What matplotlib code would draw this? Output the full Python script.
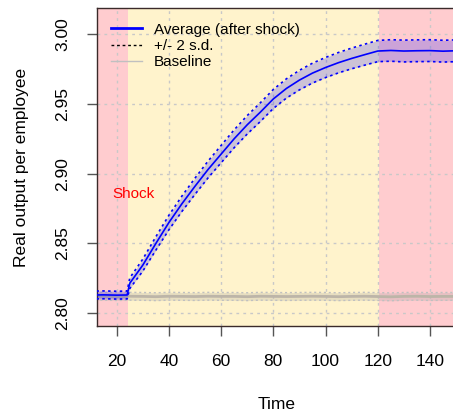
import numpy as np
import matplotlib.pyplot as plt

# values
time = [10, 15, 20, 24, 25, 30, 35, 40, 45, 50, 55, 60, 65, 70, 75, 80, 85, 90,
        95, 100, 105, 110, 115, 120, 125, 130, 135, 140, 145, 150]
avg = [2.8131, 2.8132, 2.8130, 2.8131, 2.8215, 2.8345, 2.8500, 2.8650, 2.8785,
       2.8910, 2.9030, 2.9140, 2.9250, 2.9350, 2.9440, 2.9535, 2.9610, 2.9670,
       2.9720, 2.9760, 2.9795, 2.9825, 2.9852, 2.9878, 2.9882, 2.9878, 2.9880,
       2.9881, 2.9877, 2.9880]
sd2 = [0.0028, 0.0028, 0.0028, 0.0028, 0.0038, 0.0043, 0.0048, 0.0052, 0.0055,
       0.0058, 0.0060, 0.0062, 0.0064, 0.0066, 0.0067, 0.0068, 0.0069, 0.0070,
       0.0071, 0.0072, 0.0073, 0.0074, 0.0075, 0.0076, 0.0077, 0.0078, 0.0078,
       0.0078, 0.0078, 0.0078]
base = [2.8121, 2.8122, 2.8120, 2.8121, 2.8122, 2.8121, 2.8119, 2.8122, 2.8121,
        2.8120, 2.8122, 2.8121, 2.8121, 2.8119, 2.8122, 2.8121, 2.8120, 2.8121,
        2.8122, 2.8121, 2.8119, 2.8121, 2.8122, 2.8120, 2.8118, 2.8121, 2.8122,
        2.8120, 2.8121, 2.8121]
base_sd2 = 0.0028
shock_start = 24.2
shock_end = 120.3

time = np.array(time)
avg = np.array(avg)
sd2 = np.array(sd2)
base = np.array(base)

plt.rcParams['font.family'] = ['Liberation Sans', 'DejaVu Sans']

fig = plt.figure(figsize=(4.53, 4.15), dpi=100)
ax = fig.add_axes([96.7/453, 89/415, (456.1-96.7)/453, (326-8.3)/415])
ax.set_xlim(12.34, 150)
ax.set_ylim(2.7909, 3.0184)

ax.axvspan(0, shock_start, color='#FFCCCF', lw=0, zorder=0)
ax.axvspan(shock_start, shock_end, color='#FFF3CC', lw=0, zorder=0)
ax.axvspan(shock_end, 200, color='#FFCCCF', lw=0, zorder=0)

ax.set_xticks([20, 40, 60, 80, 100, 120, 140])
ax.set_yticks([2.80, 2.85, 2.90, 2.95, 3.00])
ax.grid(True, color='#C8C8C8', linestyle=(0, (2, 3)), linewidth=1, zorder=1)

# baseline band
ax.fill_between(time, base - base_sd2, base + base_sd2, color='#A0A0A0', alpha=0.25, lw=0, zorder=2)
ax.plot(time, base - base_sd2, color='#C0C0C0', ls=(0, (1.5, 2)), lw=1, zorder=2)
ax.plot(time, base + base_sd2, color='#C0C0C0', ls=(0, (1.5, 2)), lw=1, zorder=2)
ax.plot(time, base, color='#BDB5A8', lw=2, zorder=2)

# average after shock
ax.fill_between(time, avg - sd2, avg + sd2, color='blue', alpha=0.2, lw=0, zorder=3)
ax.plot(time, avg - sd2, color='blue', ls=(0, (1.5, 2)), lw=1.2, zorder=3)
ax.plot(time, avg + sd2, color='blue', ls=(0, (1.5, 2)), lw=1.2, zorder=3)
ax.plot(time, avg, color='blue', lw=1.2, zorder=4)

ax.text(18.5, 2.8855, 'Shock', color='red', fontsize=11, va='center', ha='left')

h1, = ax.plot([], [], color='blue', lw=2)
h2, = ax.plot([], [], color='black', ls=(0, (2, 2)), lw=1)
h3, = ax.plot([], [], color='#C0C0C0', lw=1)
ax.legend([h1, h2, h3], ['Average (after shock)', '+/- 2 s.d.', 'Baseline'],
          loc='upper left', bbox_to_anchor=(0.0, 1.0), frameon=False, fontsize=11,
          handlelength=2.0, handletextpad=0.8, labelspacing=0.15, borderpad=0.5,
          borderaxespad=0.45)

ax.set_xlabel('Time', fontsize=12.5, labelpad=20)
ax.set_ylabel('Real output per employee', fontsize=12.5, labelpad=19)
ax.tick_params(axis='both', labelsize=12.5, length=7, color='#555555', width=1)
ax.tick_params(axis='x', pad=13)
ax.tick_params(axis='y', pad=12)
for lab in ax.get_yticklabels():
    lab.set_rotation(90)
    lab.set_va('center')
for s in ['left', 'top', 'bottom', 'right']:
    ax.spines[s].set_color('#3a2a2a')
    ax.spines[s].set_linewidth(1)

fig.savefig('out.png', dpi=100)
